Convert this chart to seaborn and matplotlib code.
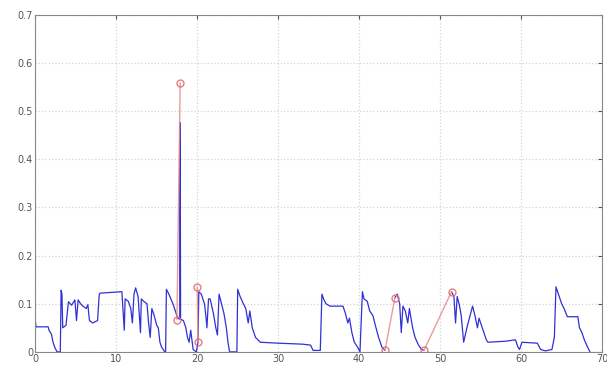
import matplotlib
matplotlib.use("Agg")
import matplotlib.pyplot as plt
import seaborn as sns
import pandas as pd

# blue signal, three pieces (gaps are bridged by the red segments)
seg_a_x = [0.0, 0.1, 1.6, 1.7, 2.0, 2.2, 2.4, 2.7, 3.1, 3.2, 3.3, 3.4, 3.8, 4.1, 4.5, 4.9,
           5.1, 5.3, 5.6, 5.9, 6.3, 6.5, 6.7, 7.1, 7.7, 7.9, 8.0, 10.7, 11.0, 11.1, 11.5,
           11.8, 12.0, 12.2, 12.4, 12.7, 13.0, 13.1, 13.4, 13.8, 14.0, 14.2, 14.4, 14.7,
           15.0, 15.2, 15.4, 15.6, 16.0, 16.1, 16.2, 16.5, 17.0, 17.3, 17.6, 17.85, 17.9,
           17.95, 18.3, 18.6, 18.8, 19.0, 19.2, 19.5, 19.9, 20.1, 20.2, 20.5, 20.9, 21.1,
           21.2, 21.4, 21.6, 22.0, 22.3, 22.5, 22.7, 23.0, 23.3, 23.6, 23.8, 24.0, 24.9,
           25.0, 25.3, 25.7, 26.0, 26.3, 26.5, 26.8, 27.2, 27.8, 30.0, 33.0, 34.0, 34.3,
           35.2, 35.4, 35.6, 35.9, 36.4, 38.0, 38.3, 38.6, 38.8, 39.1, 39.4, 39.8, 40.1,
           40.4, 40.6, 41.0, 41.3, 41.7, 42.0, 42.4, 42.8, 43.2]
seg_a_y = [0.067, 0.052, 0.052, 0.045, 0.037, 0.02, 0.01, 0.0, 0.0, 0.128, 0.12, 0.05, 0.055,
           0.104, 0.097, 0.108, 0.065, 0.108, 0.1, 0.095, 0.09, 0.098, 0.065, 0.06, 0.065,
           0.118, 0.122, 0.125, 0.045, 0.11, 0.105, 0.09, 0.06, 0.12, 0.133, 0.115, 0.04,
           0.11, 0.105, 0.1, 0.06, 0.03, 0.09, 0.075, 0.055, 0.05, 0.02, 0.01, 0.0, 0.0,
           0.13, 0.12, 0.1, 0.085, 0.07, 0.068, 0.476, 0.068, 0.065, 0.05, 0.03, 0.02,
           0.045, 0.005, 0.0, 0.02, 0.125, 0.12, 0.1, 0.07, 0.05, 0.11, 0.11, 0.08, 0.05,
           0.035, 0.12, 0.1, 0.08, 0.05, 0.02, 0.0, 0.0, 0.13, 0.115, 0.1, 0.09, 0.06,
           0.085, 0.05, 0.03, 0.02, 0.018, 0.016, 0.014, 0.003, 0.003, 0.12, 0.11, 0.1,
           0.095, 0.095, 0.08, 0.06, 0.07, 0.04, 0.02, 0.01, 0.0, 0.125, 0.11, 0.105,
           0.085, 0.075, 0.055, 0.03, 0.01, 0.003]

seg_b_x = [44.4, 44.7, 45.0, 45.2, 45.4, 45.7, 46.0, 46.2, 46.6, 46.9, 47.3, 47.7, 48.0]
seg_b_y = [0.112, 0.12, 0.1, 0.04, 0.095, 0.085, 0.06, 0.09, 0.05, 0.03, 0.015, 0.005, 0.003]

seg_c_x = [51.4, 51.7, 51.9, 52.1, 52.4, 52.6, 52.9, 53.3, 54.0, 54.3, 54.6, 54.8, 55.3,
           55.7, 55.9, 58.0, 59.3, 59.6, 59.8, 60.1, 62.0, 62.4, 63.0, 63.8, 64.1, 64.3,
           64.6, 65.0, 65.3, 65.7, 67.0, 67.2, 67.5, 67.8, 68.2, 68.5]
seg_c_y = [0.125, 0.115, 0.06, 0.115, 0.095, 0.075, 0.02, 0.05, 0.095, 0.075, 0.05, 0.07,
           0.045, 0.025, 0.02, 0.022, 0.025, 0.01, 0.005, 0.02, 0.018, 0.005, 0.002,
           0.005, 0.03, 0.135, 0.12, 0.1, 0.09, 0.073, 0.073, 0.05, 0.04, 0.025, 0.01, 0.0]

# red marked jumps
red_x = [17.5, 17.9, 20.1, 20.0, 43.2, 44.4, 48.0, 51.4]
red_y = [0.067, 0.559, 0.02, 0.135, 0.003, 0.112, 0.003, 0.125]
red_seg = [0, 0, 1, 1, 2, 2, 3, 3]

blue = pd.DataFrame({
    "x": seg_a_x + seg_b_x + seg_c_x,
    "y": seg_a_y + seg_b_y + seg_c_y,
    "seg": [0] * len(seg_a_x) + [1] * len(seg_b_x) + [2] * len(seg_c_x),
})
red = pd.DataFrame({"x": red_x, "y": red_y, "seg": red_seg})

sns.set_style("white")
plt.rcParams["font.family"] = ["DejaVu Sans"]

fig = plt.figure(figsize=(6.07, 3.65), dpi=100)
ax = fig.add_axes([0.058, 0.036, 0.934, 0.923])

ax.grid(True, color="#d4d4d4", linestyle=":", linewidth=0.9)
ax.set_axisbelow(True)

sns.lineplot(data=blue, x="x", y="y", units="seg", estimator=None, sort=False,
             color="#3030d4", linewidth=0.9, ax=ax)
sns.lineplot(data=red, x="x", y="y", units="seg", estimator=None, sort=False,
             color="#e89090", linewidth=1.0, marker="o", markersize=5,
             markerfacecolor="none", markeredgecolor="#e07070", markeredgewidth=1.0,
             alpha=0.9, ax=ax)

ax.set_xlim(0, 70)
ax.set_ylim(0, 0.7)
ax.set_xticks(range(0, 71, 10))
ax.set_yticks([0, 0.1, 0.2, 0.3, 0.4, 0.5, 0.6, 0.7])
ax.set_yticklabels(["0", "0.1", "0.2", "0.3", "0.4", "0.5", "0.6", "0.7"])
ax.set_xlabel("")
ax.set_ylabel("")
ax.tick_params(direction="in", length=3, labelsize=7, colors="#555555", pad=1.5,
               top=True, right=True)
for sp in ax.spines.values():
    sp.set_color("#888888")
    sp.set_linewidth(0.8)

fig.savefig("out.png", dpi=100)
